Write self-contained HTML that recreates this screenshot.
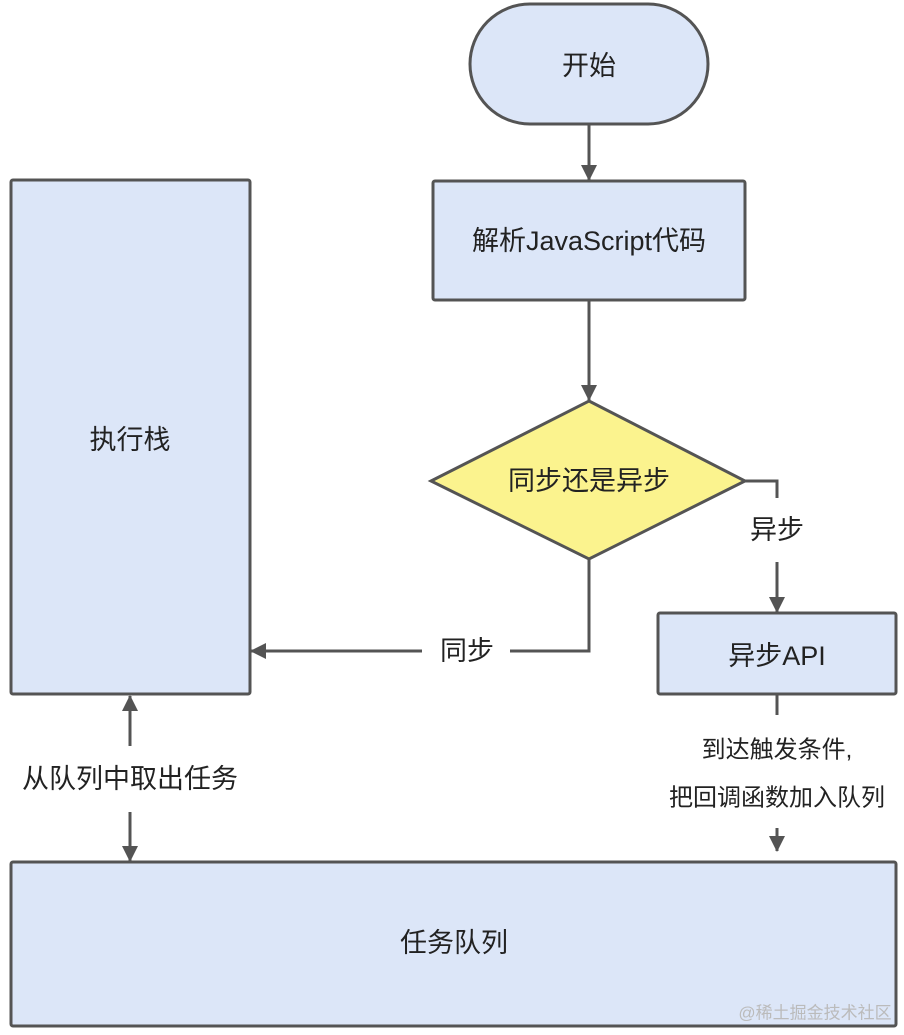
<!DOCTYPE html>
<html><head><meta charset="utf-8"><style>
html,body{margin:0;padding:0;background:#fff;}
svg text{font-family:"Liberation Sans","Noto Sans CJK SC",sans-serif;fill:#222;dominant-baseline:central;text-anchor:middle;}
</style></head><body>
<svg width="904" height="1030" viewBox="0 0 904 1030" xmlns="http://www.w3.org/2000/svg">
<defs>
<marker id="b" markerWidth="18" markerHeight="16" refX="15" refY="8" orient="auto" markerUnits="userSpaceOnUse"><path d="M0,0 L16,8 L0,16 Z" fill="#545454"/></marker></defs>
<g stroke="#545454" stroke-width="3" fill="#dce6f8">
<rect x="470" y="4" width="238" height="120" rx="60"/>
<rect x="433" y="181" width="312" height="119" rx="2"/>
<polygon points="589,401 745,481 589,559 431,481" fill="#fbf38e"/>
<rect x="658" y="613" width="238" height="81" rx="2"/>
<rect x="11" y="180" width="239" height="514" rx="2"/>
<rect x="11" y="862" width="885" height="164" rx="2"/>
</g>
<g stroke="#545454" stroke-width="3" fill="none">
<line x1="589" y1="124" x2="589" y2="180" marker-end="url(#b)"/>
<line x1="589" y1="300" x2="589" y2="400" marker-end="url(#b)"/>
<polyline points="745,481 777,481 777,498"/>
<line x1="777" y1="562" x2="777" y2="612" marker-end="url(#b)"/>
<polyline points="589,559 589,651 510,651"/>
<line x1="422" y1="651" x2="251" y2="651" marker-end="url(#b)"/>
<line x1="777" y1="694" x2="777" y2="715"/>
<line x1="777" y1="828" x2="777" y2="851" marker-end="url(#b)"/>
<line x1="130" y1="746" x2="130" y2="696" marker-end="url(#b)"/>
<line x1="130" y1="812" x2="130" y2="861" marker-end="url(#b)"/>
</g>
<text x="589" y="66" font-size="27">开始</text>
<text x="589" y="241" font-size="27">解析JavaScript代码</text>
<text x="589" y="481" font-size="27">同步还是异步</text>
<text x="777" y="530" font-size="27">异步</text>
<text x="777" y="656" font-size="27">异步API</text>
<text x="467" y="651" font-size="27">同步</text>
<text x="130" y="440" font-size="27">执行栈</text>
<text x="130" y="779" font-size="27">从队列中取出任务</text>
<text x="777" y="750" font-size="24">到达触发条件,</text>
<text x="777" y="798" font-size="24">把回调函数加入队列</text>
<text x="454" y="943" font-size="27">任务队列</text>
<text x="815" y="1013" font-size="17" style="fill:#bbb">@稀土掘金技术社区</text>
</svg>
</body></html>
